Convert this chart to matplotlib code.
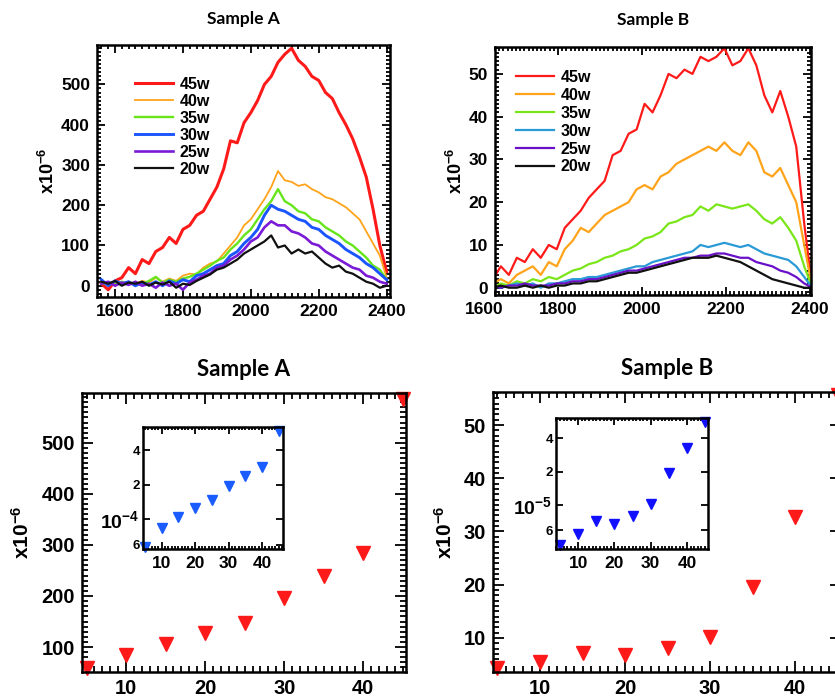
import matplotlib
matplotlib.use("Agg")
import matplotlib.pyplot as plt
from matplotlib.ticker import MultipleLocator, FixedLocator, FixedFormatter

plt.rcParams["font.family"] = ["Liberation Sans", "DejaVu Sans"]
plt.rcParams["font.weight"] = "bold"
plt.rcParams["mathtext.fontset"] = "custom"
plt.rcParams["mathtext.rm"] = "Liberation Sans:bold"
plt.rcParams["mathtext.bf"] = "Liberation Sans:bold"

# ---- top row: spectra ----
LABELS = ["45w", "40w", "35w", "30w", "25w", "20w"]
COLORS_A = ["#ff1a1a", "#ffa31a", "#66e61a", "#1a55ff", "#7a1ad6", "#111111"]
COLORS_B = ["#ff1a1a", "#ffa31a", "#7ae61a", "#2a9ad6", "#6a10c8", "#111111"]

X_A = list(range(1560, 2401, 20))
A_45 = [5, -10, 12, 20, 45, 30, 65, 55, 85, 95, 120, 105, 140, 150, 175, 185, 215, 245, 290, 360, 355,
        405, 430, 460, 500, 520, 555, 575, 590, 560, 545, 520, 510, 480, 465, 430, 400, 365, 320, 270,
        190, 100, 35]
A_40 = [10, 5, 8, 3, 10, 5, 12, 8, 20, 10, 18, 12, 25, 30, 28, 45, 55, 60, 80, 100, 120,
        150, 165, 190, 215, 245, 285, 262, 258, 248, 252, 240, 232, 220, 215, 205, 195, 180, 165, 135,
        105, 75, 20]
A_35 = [5, 8, 2, 10, 5, 8, 4, 12, 22, 8, 15, 10, 18, 22, 30, 40, 50, 62, 70, 90, 105,
        125, 140, 165, 190, 210, 240, 210, 200, 185, 180, 165, 160, 145, 135, 125, 110, 100, 85, 70,
        50, 40, 15]
A_30 = [15, 0, 12, 5, 10, 0, 8, 2, 10, 0, 12, 5, 15, 10, 25, 30, 40, 50, 55, 75, 85,
        105, 120, 140, 175, 200, 190, 185, 175, 165, 160, 145, 140, 125, 115, 105, 90, 80, 70, 55,
        45, 30, 15]
A_25 = [5, 10, 0, 8, 2, 10, 0, 5, -5, 8, 0, 5, -10, 8, 15, 25, 30, 45, 50, 65, 75,
        90, 110, 120, 145, 160, 150, 150, 135, 130, 120, 105, 100, 85, 75, 65, 55, 45, 40, 25,
        20, 10, 5]
A_20 = [10, 5, 12, 0, 8, 5, 10, 0, 8, 3, 10, -5, 5, 2, 12, 20, 28, 40, 45, 55, 65,
        80, 90, 100, 110, 125, 95, 100, 80, 90, 80, 85, 70, 55, 45, 50, 35, 30, 20, 10,
        5, -5, 0]

X_B = list(range(1645, 2406, 19))
B_45 = [2, 5, 3, 7, 6, 9, 7, 10, 9, 14, 16, 18, 21, 23, 25, 31, 32, 36, 37, 43, 41,
        45, 50, 49, 51, 50, 54, 53, 54, 56, 52, 53, 56, 52, 45, 41, 46, 40, 33, 15, 0]
B_40 = [1, 2, 1, 3, 4, 5, 3, 6, 5, 9, 11, 14, 13, 15, 17, 18, 19, 20, 23, 24, 23,
        26, 27, 29, 30, 31, 32, 33, 32, 34, 32, 31, 34, 32, 27, 26, 28, 24, 20, 10, 0]
B_35 = [0, 1, 0.5, 1.5, 1, 2, 1.5, 2.5, 2, 3, 4, 4.5, 5.5, 6, 7, 7.5, 8.5, 9, 10, 11.5, 12,
        13, 15, 15.5, 16.5, 17, 19, 18, 19.5, 19, 18.5, 19, 19.5, 18, 16, 15, 16.5, 14, 11, 5, 0]
B_30 = [0.5, 0, 0.5, 1, 0.5, 1, 0, 1, 1, 1.5, 2, 2, 2.5, 2.5, 3, 3.5, 4, 4.5, 5, 5, 6,
        6.5, 7, 7.5, 8, 8.5, 10, 9.5, 10, 10.5, 10, 9.5, 10, 9, 8, 7.5, 7, 6.5, 5, 2.5, 0]
B_25 = [0.5, 0, 0.5, 0.5, 1, 0.5, 0.5, 0.5, 1, 1, 1.5, 1.5, 2, 2, 2.5, 3, 3.5, 4, 4, 4.5, 5,
        5.5, 6, 6.5, 7, 7, 7.5, 7.5, 8, 8, 7.5, 7, 7, 6, 5.5, 5, 4, 3.5, 2.5, 1, 0]
B_20 = [0, 0.5, 0, 0, 0.5, 0, 0.5, 0, 0.5, 0.5, 1, 1, 1.5, 1.5, 2, 2.5, 3, 3.5, 3.5, 4, 4.5,
        5, 5.5, 6, 6.5, 7, 7, 7, 7.5, 7, 6.5, 6, 5, 4, 3, 2, 1.5, 1, 0.5, 0, 0]

# ---- bottom row: peak value vs power ----
POWER = [5, 10, 15, 20, 25, 30, 35, 40, 45]
PEAK_A = [58, 84, 106, 127, 147, 196, 239, 284, 586]
PEAK_B = [4.4, 5.5, 7.2, 6.8, 8.1, 10.2, 19.6, 32.7, 55.6]


def style(ax, xmaj, xmin, ymaj, ymin, size, length=7):
    ax.xaxis.set_major_locator(MultipleLocator(xmaj))
    ax.xaxis.set_minor_locator(MultipleLocator(xmin))
    if ymaj is not None:
        ax.yaxis.set_major_locator(MultipleLocator(ymaj))
        ax.yaxis.set_minor_locator(MultipleLocator(ymin))
    ax.tick_params(which="both", direction="in", top=True, right=True, width=1.3)
    ax.tick_params(which="major", length=length, labelsize=size, pad=5)
    ax.tick_params(which="minor", length=length / 2)
    for s in ax.spines.values():
        s.set_linewidth(1.8)
    for lab in ax.get_xticklabels() + ax.get_yticklabels():
        lab.set_fontweight("bold")


fig = plt.figure(figsize=(8.35, 7.0), dpi=100)

# top left
ax1 = fig.add_axes([0.1162, 0.5757, 0.3509, 0.36])
series_a = [A_45, A_40, A_35, A_30, A_25, A_20]
for vals, c, lab, lw in zip(series_a, COLORS_A, LABELS, [2.2, 1.3, 1.7, 2.1, 1.9, 1.6]):
    ax1.plot(X_A, vals, color=c, lw=lw, label=lab)
ax1.set_xlim(1547, 2410)
ax1.set_ylim(-28, 598)
style(ax1, 200, 20, 100, 10, 12.5, length=6)
ax1.set_ylabel(r"$\mathbf{x10^{-6}}$", fontsize=13, labelpad=2)
ax1.set_title("Sample A", fontsize=12.5, fontweight="bold", family="Lato", pad=15)
ax1.legend(loc="upper left", bbox_to_anchor=(0.08, 0.93), frameon=False, handlelength=2.4,
           handletextpad=0.4, labelspacing=0.12, prop={"weight": "bold", "size": 11.5})

# top right
ax2 = fig.add_axes([0.5928, 0.5786, 0.3784, 0.3543])
series_b = [B_45, B_40, B_35, B_30, B_25, B_20]
for vals, c, lab in zip(series_b, COLORS_B, LABELS):
    ax2.plot(X_B, vals, color=c, lw=1.6, label=lab)
ax2.set_xlim(1650, 2402)
ax2.set_ylim(-1.7, 56.3)
style(ax2, 200, 10, 10, 1, 12.5, length=6)
# the 1600 label sits left of the frame in the original
ax2.annotate("1600", xy=(1624, 0), xycoords=("data", "axes fraction"), xytext=(0, -5),
             textcoords="offset points", ha="center", va="top", fontsize=12.5,
             fontweight="bold", annotation_clip=False)
ax2.set_ylabel(r"$\mathbf{x10^{-6}}$", fontsize=13, labelpad=2)
ax2.set_title("Sample B", fontsize=12.5, fontweight="bold", family="Lato", pad=16)
ax2.legend(loc="upper left", bbox_to_anchor=(0.02, 0.965), frameon=False, handlelength=2.4,
           handletextpad=0.4, labelspacing=0.18, prop={"weight": "bold", "size": 11.5})

# bottom left
ax3 = fig.add_axes([0.0982, 0.04, 0.388, 0.3986])
ax3.plot(POWER, PEAK_A, "v", color="#ff1a1a", ms=10, clip_on=False)
ax3.set_xlim(4.43, 45.4)
ax3.set_ylim(51, 598)
style(ax3, 10, 1, 100, 10, 14.5, length=8)
ax3.set_ylabel(r"$\mathbf{x10^{-6}}$", fontsize=15, labelpad=6)
ax3.set_title("Sample A", fontsize=16, fontweight="bold", family="Lato", pad=12)

in3 = fig.add_axes([0.1713, 0.2157, 0.1677, 0.1743])
in3.plot(POWER, [v * 1e-6 for v in PEAK_A], "v", color="#1a5cff", ms=7, clip_on=False)
in3.set_yscale("log")
in3.set_xlim(4.4, 46.3)
in3.set_ylim(5.53e-5, 6.37e-4)
style(in3, 10, 1, None, None, 12.5, length=5)
in3.yaxis.set_major_locator(FixedLocator([1e-4]))
in3.yaxis.set_major_formatter(FixedFormatter([r"$\mathbf{10^{-4}}$"]))
in3.yaxis.set_minor_locator(FixedLocator([6e-5, 2e-4, 4e-4]))
in3.yaxis.set_minor_formatter(FixedFormatter(["6", "2", "4"]))
in3.tick_params(axis="y", which="major", labelsize=14, pad=3)
in3.tick_params(axis="y", which="minor", labelsize=9.5, pad=2, length=5)

# bottom right (frame runs past the right edge of the figure, as in the original crop)
ax4 = fig.add_axes([0.5904, 0.04, 0.4168, 0.40])
ax4.plot(POWER, PEAK_B, "v", color="#ff1a1a", ms=10, clip_on=False)
ax4.set_xlim(4.47, 45.4)
ax4.set_ylim(3.6, 56.2)
style(ax4, 10, 1, 10, 1, 14.5, length=8)
ax4.set_ylabel(r"$\mathbf{x10^{-6}}$", fontsize=15, labelpad=6)
ax4.set_title("Sample B", fontsize=16, fontweight="bold", family="Lato", pad=12)

in4 = fig.add_axes([0.6659, 0.2157, 0.182, 0.1871])
in4.plot(POWER, [v * 1e-6 for v in PEAK_B], "v", color="#1010ff", ms=7, clip_on=False)
in4.set_yscale("log")
in4.set_xlim(3.9, 45.8)
in4.set_ylim(4.06e-6, 6.04e-5)
style(in4, 10, 1, None, None, 12.5, length=5)
in4.yaxis.set_major_locator(FixedLocator([1e-5]))
in4.yaxis.set_major_formatter(FixedFormatter([r"$\mathbf{10^{-5}}$"]))
in4.yaxis.set_minor_locator(FixedLocator([6e-6, 2e-5, 4e-5]))
in4.yaxis.set_minor_formatter(FixedFormatter(["6", "2", "4"]))
in4.tick_params(axis="y", which="major", labelsize=14, pad=3)
in4.tick_params(axis="y", which="minor", labelsize=9.5, pad=2, length=5)

fig.savefig("out.png", dpi=100)
